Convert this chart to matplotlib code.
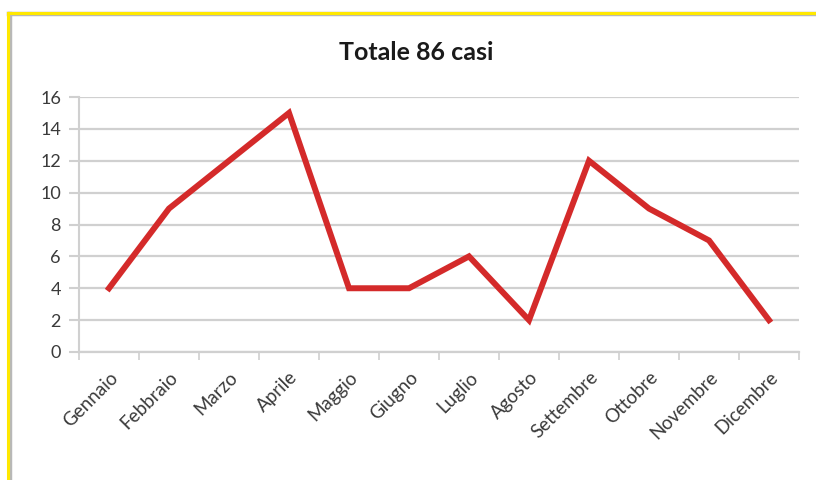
import matplotlib.pyplot as plt
from matplotlib.lines import Line2D

mesi = ['Gennaio', 'Febbraio', 'Marzo', 'Aprile', 'Maggio', 'Giugno',
        'Luglio', 'Agosto', 'Settembre', 'Ottobre', 'Novembre', 'Dicembre']
casi = [4, 9, 12, 15, 4, 4, 6, 2, 12, 9, 7, 2]
y_ticks = [0, 2, 4, 6, 8, 10, 12, 14, 16]

plt.rcParams['font.family'] = ['Lato', 'DejaVu Sans']

W, H = 816, 480
fig = plt.figure(figsize=(W / 100, H / 100), dpi=100)
ax = fig.add_axes([79 / W, 1 - 352 / H, 720 / W, 255 / H])

x = list(range(len(mesi)))
ax.plot(x, casi, color='#d42a2a', linewidth=4.3, solid_joinstyle='miter')

ax.set_xlim(-0.5, len(mesi) - 0.5)
ax.set_ylim(0, 16)
ax.set_yticks(y_ticks)
ax.set_yticklabels([str(v) for v in y_ticks], fontsize=13, color='#3a3a3a')
ax.tick_params(axis='y', length=7, width=1.5, color='#d0d0d0', pad=6)
ax.yaxis.grid(True, color='#d0d0d0', linewidth=1.6)
ax.set_axisbelow(True)

# category labels between boundary ticks
ax.set_xticks([i - 0.5 for i in range(len(mesi) + 1)])
ax.set_xticklabels([])
ax.tick_params(axis='x', length=6, width=1.2, color='#d0d0d0')
ax.set_xticks(x, minor=True)
ax.set_xticklabels(mesi, minor=True, rotation=45, ha='right',
                   rotation_mode='anchor', fontsize=13.5, color='#3a3a3a')
ax.tick_params(axis='x', which='minor', length=0, pad=12)

for s in ['top', 'right']:
    ax.spines[s].set_visible(False)
ax.spines['left'].set_color('#d0d0d0')
ax.spines['left'].set_linewidth(1.5)
ax.spines['bottom'].set_color('#d0d0d0')
ax.spines['bottom'].set_linewidth(1.6)

fig.text(416 / W, 1 - 52 / H, 'Totale 86 casi', ha='center', va='center',
         fontsize=18, fontweight='bold', color='#1a1a1a')

# yellow frame on top and left
fig.add_artist(Line2D([9 / W, 1], [1 - 14 / H] * 2, color='#b8b8b8', linewidth=3.2))
fig.add_artist(Line2D([9.5 / W] * 2, [0, 1 - 14 / H], color='#b8b8b8', linewidth=3.2))
fig.add_artist(Line2D([8 / W, 1], [1 - 12.5 / H] * 2, color='#ffe800', linewidth=2.2))
fig.add_artist(Line2D([8 / W] * 2, [0, 1 - 12.5 / H], color='#ffe800', linewidth=2.2))

fig.savefig('out.png', dpi=100)
